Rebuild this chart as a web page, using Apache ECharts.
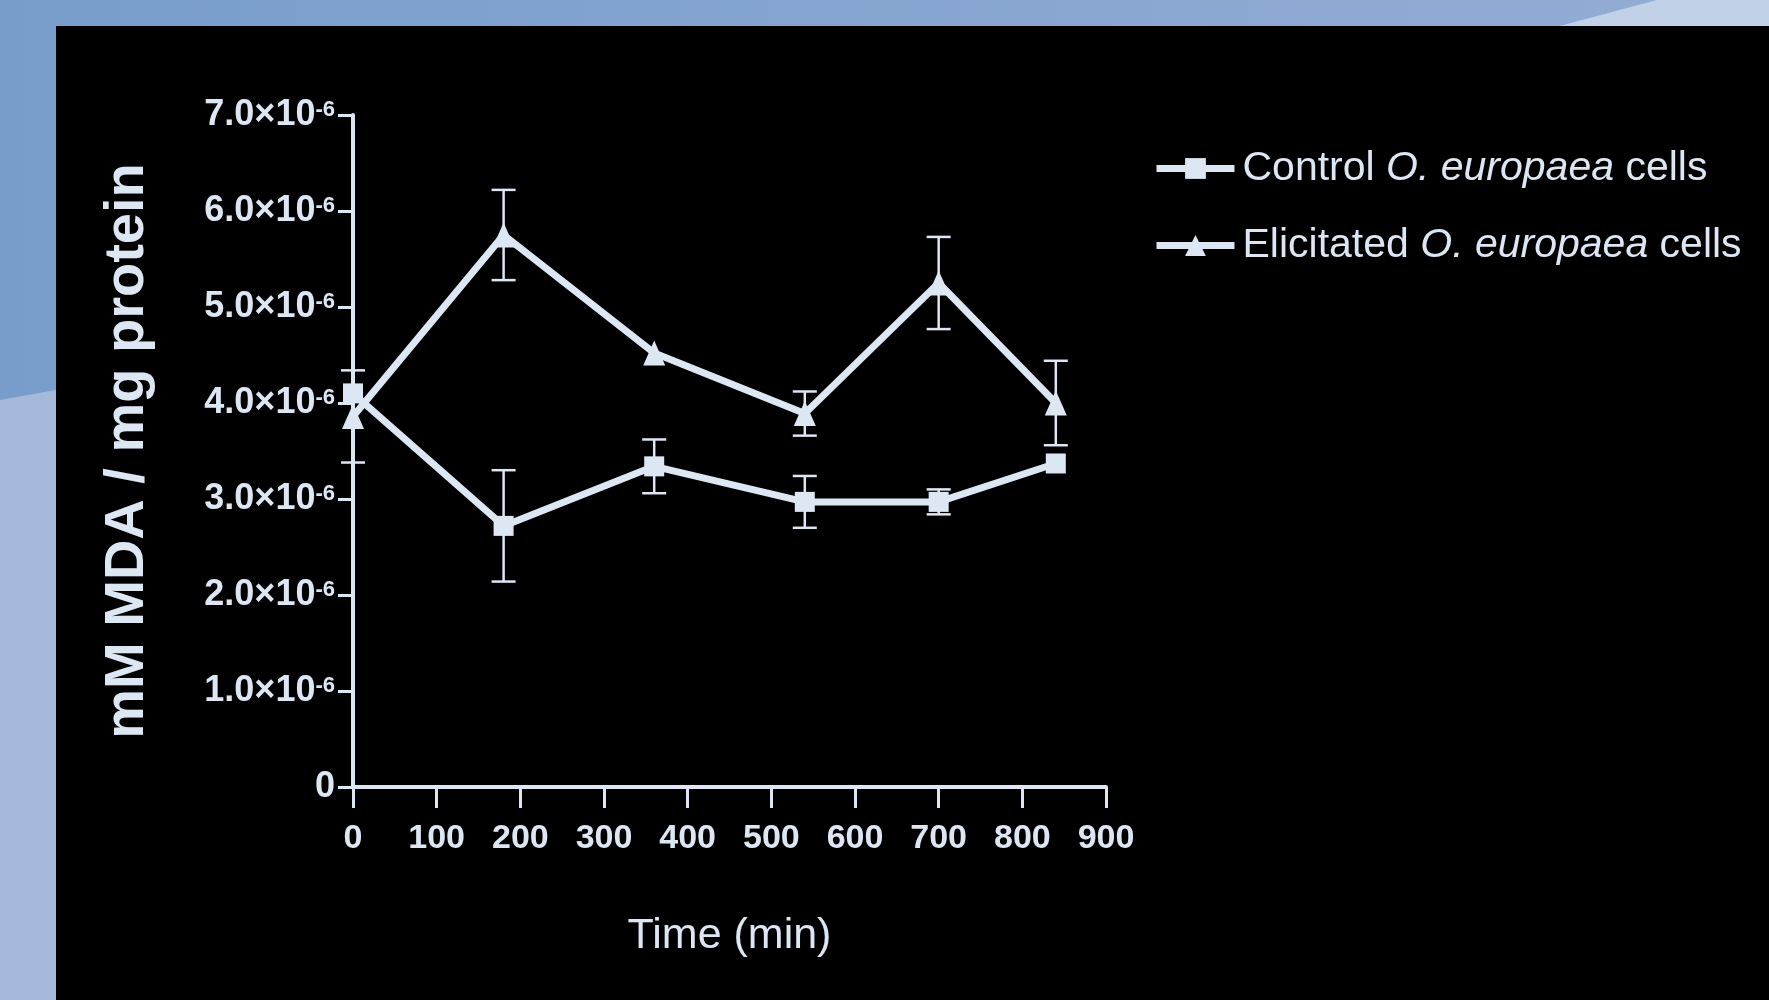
<!DOCTYPE html>
<html>
<head>
<meta charset="utf-8">
<script src="https://cdn.jsdelivr.net/npm/echarts@6/dist/echarts.min.js"></script>
<style>
html,body{margin:0;padding:0;background:#a5b9da;}
#chart{width:1769px;height:1000px;}
</style>
</head>
<body>
<div id="chart"></div>
<script>
// Time points (min)
var times = [0, 180, 360, 540, 700, 840];
// Values in units of 1e-6 mM MDA / mg protein
var controlMean = [4.10, 2.72, 3.34, 2.97, 2.97, 3.37];
var controlErr  = [0.00, 0.58, 0.28, 0.27, 0.13, 0.00];
var elicitMean  = [3.86, 5.75, 4.52, 3.89, 5.25, 4.00];
var elicitErr   = [0.48, 0.47, 0.00, 0.23, 0.48, 0.44];
var seriesNames = ['Control O. europaea cells', 'Elicitated O. europaea cells'];
var xTicks = [0, 100, 200, 300, 400, 500, 600, 700, 800, 900];
var yTicks = [0, 1, 2, 3, 4, 5, 6, 7];

var FG = '#dde7f4';
var SANS = '"Liberation Sans",Arial,sans-serif';

function pts(m){ return times.map(function(t,i){ return [t, m[i]]; }); }
function errs(m,e){
  var out=[];
  times.forEach(function(t,i){ if(e[i]>0) out.push([t, m[i]-e[i], m[i]+e[i]]); });
  return out;
}
function errRender(params, api){
  var x=api.value(0), lo=api.value(1), hi=api.value(2);
  var p1=api.coord([x,hi]), p2=api.coord([x,lo]);
  var hw=12, st={stroke:FG, lineWidth:2.5};
  return {type:'group', children:[
    {type:'line', shape:{x1:p1[0],y1:p1[1],x2:p2[0],y2:p2[1]}, style:st},
    {type:'line', shape:{x1:p1[0]-hw,y1:p1[1],x2:p1[0]+hw,y2:p1[1]}, style:st},
    {type:'line', shape:{x1:p2[0]-hw,y1:p2[1],x2:p2[0]+hw,y2:p2[1]}, style:st}
  ]};
}

var chart = echarts.init(document.getElementById('chart'), null, {renderer:'canvas'});
chart.setOption({
  animation:false,
  backgroundColor:'#a5b9da',
  graphic:[
    {type:'polygon', z:-20, shape:{points:[[0,0],[1657,0],[1560,26],[56,26],[56,390],[0,400]]},
     style:{fill:new echarts.graphic.LinearGradient(0,0,1,0,[{offset:0,color:'#789dcb'},{offset:1,color:'#92acd4'}])}},
    {type:'polygon', z:-20, shape:{points:[[1657,0],[1769,0],[1769,26],[1560,26]]}, style:{fill:'#c2d0e8'}},
    {type:'rect', z:-10, shape:{x:56,y:26,width:1713,height:974}, style:{fill:'#000000'}}
  ],
  grid:{left:353, right:663, top:115, bottom:213, containLabel:false},
  legend:{
    orient:'vertical', left:1148, top:143, itemWidth:78, itemHeight:26, itemGap:36,
    data:seriesNames,
    lineStyle:{width:7, color:FG},
    formatter:function(name){
      var parts=name.split(' O. europaea ');
      return '{f|'+parts[0]+' }{i|O. europaea}{n| '+parts[1]+'}';
    },
    textStyle:{color:FG, rich:{
      f:{fontFamily:SANS, fontSize:41, lineHeight:41, color:FG, padding:[0,0,0,3]},
      n:{fontFamily:SANS, fontSize:41, lineHeight:41, color:FG},
      i:{fontFamily:SANS, fontSize:41, lineHeight:41, fontStyle:'italic', color:FG}
    }}
  },
  xAxis:{
    type:'value', min:0, max:900, interval:100,
    name:'Time (min)', nameLocation:'middle', nameGap:128,
    nameTextStyle:{color:FG, fontFamily:SANS, fontSize:43, lineHeight:43},
    axisLine:{show:true, lineStyle:{color:FG, width:4}},
    axisTick:{show:true, length:21, lineStyle:{color:FG, width:3}},
    axisLabel:{color:FG, fontFamily:SANS, fontWeight:'bold', fontSize:34, lineHeight:34, margin:35,
      customValues:xTicks},
    splitLine:{show:false}
  },
  yAxis:{
    type:'value', min:0, max:7, interval:1,
    name:'mM MDA / mg protein', nameLocation:'middle', nameGap:197,
    nameTextStyle:{color:FG, fontFamily:SANS, fontWeight:'bold', fontSize:56, lineHeight:56},
    axisLine:{show:true, lineStyle:{color:FG, width:4}},
    axisTick:{show:true, length:15, lineStyle:{color:FG, width:3}},
    axisLabel:{margin:18, color:FG,
      formatter:function(v){ return v===0 ? '{a|0}' : '{a|'+v.toFixed(1)+'×10}{b|-6}'; },
      rich:{
        a:{fontFamily:SANS, fontWeight:'bold', fontSize:36, lineHeight:36, color:FG},
        b:{fontFamily:SANS, fontWeight:'bold', fontSize:22, lineHeight:22, verticalAlign:'top', padding:[2,0,0,0], color:FG}
      }},
    splitLine:{show:false}
  },
  series:[
    {type:'custom', name:'ctrlErr', renderItem:errRender, data:errs(controlMean,controlErr), encode:{x:0,y:[1,2]}, clip:false, z:3, silent:true},
    {type:'custom', name:'elicErr', renderItem:errRender, data:errs(elicitMean,elicitErr), encode:{x:0,y:[1,2]}, clip:false, z:3, silent:true},
    {type:'line', name:seriesNames[0], data:pts(controlMean), symbol:'rect', symbolSize:20,
     lineStyle:{color:FG, width:7}, itemStyle:{color:FG}, z:4},
    {type:'line', name:seriesNames[1], data:pts(elicitMean), symbol:'triangle', symbolSize:[22,25],
     lineStyle:{color:FG, width:7}, itemStyle:{color:FG}, z:4}
  ]
});
</script>
</body>
</html>
